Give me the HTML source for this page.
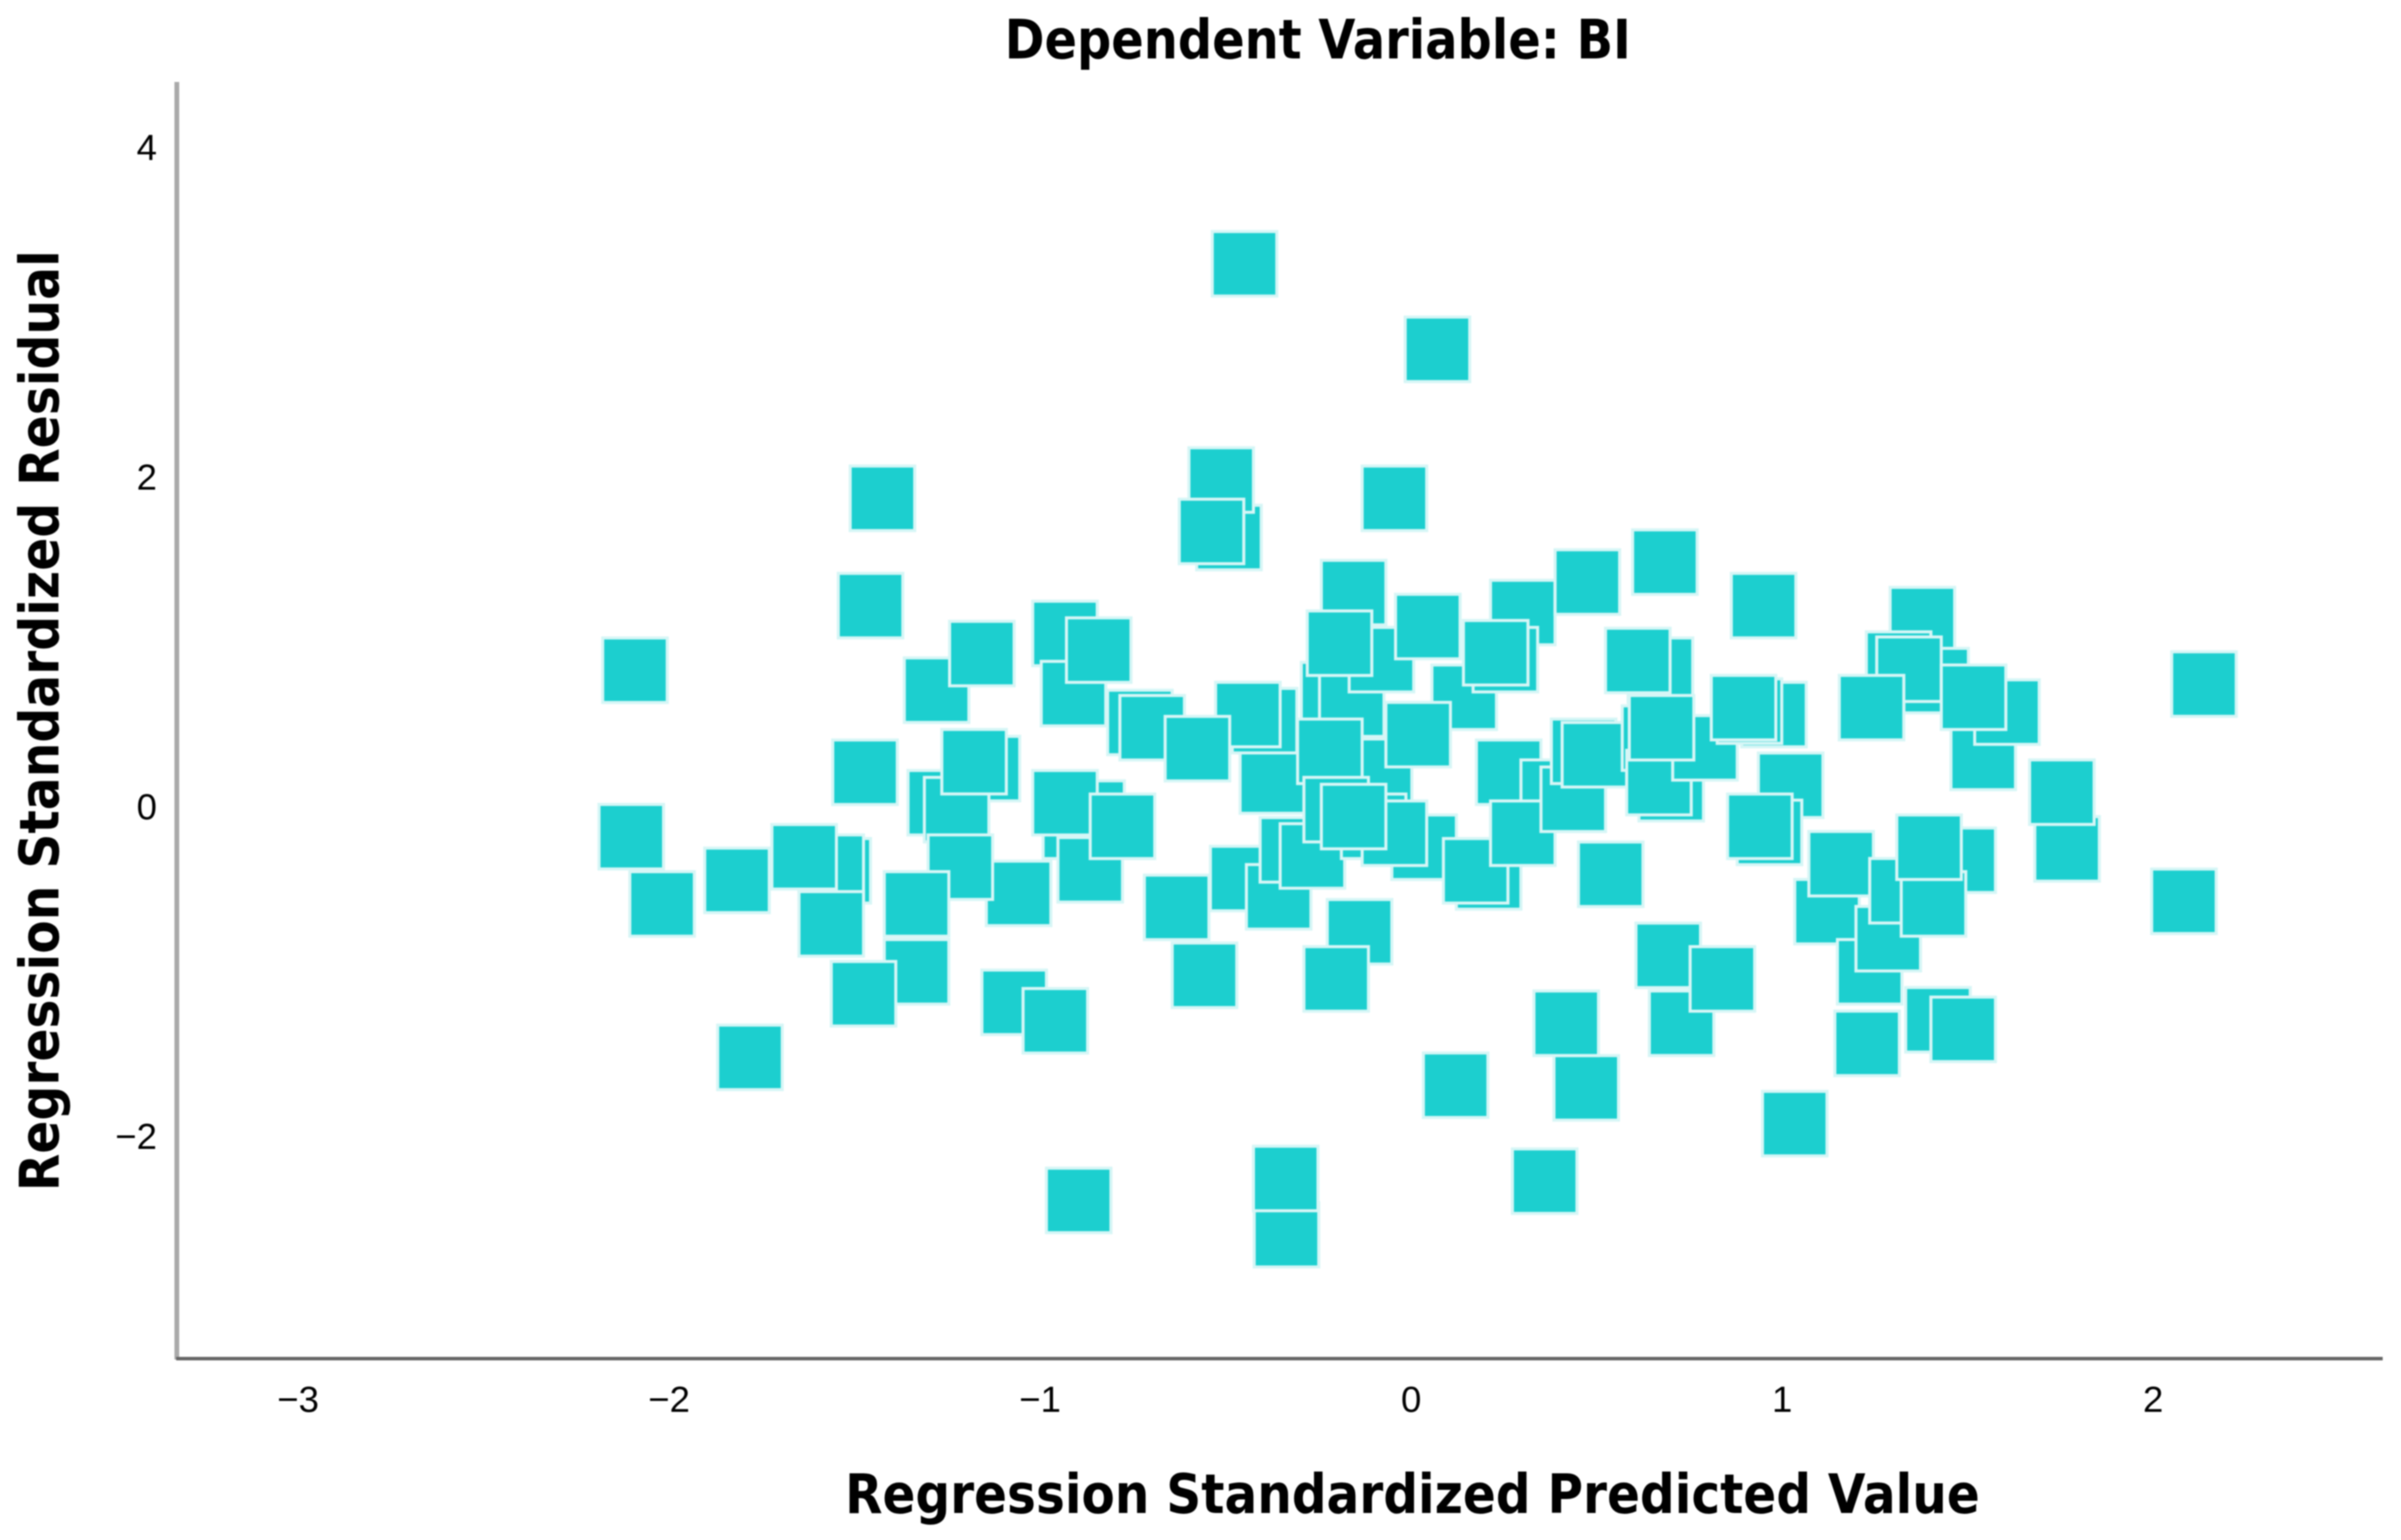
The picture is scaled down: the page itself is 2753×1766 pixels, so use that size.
<!DOCTYPE html>
<html lang="en">
<head>
<meta charset="utf-8">
<title>Dependent Variable: BI</title>
<style>
html,body{margin:0;padding:0;background:#fff;}
svg{display:block;filter:blur(0.8px);}
text{fill:#000;}
.axis-title{font-family:"DejaVu Sans","Liberation Sans",sans-serif;font-weight:bold;font-size:62px;}
.tick{font-family:"Liberation Sans",sans-serif;font-size:42px;}
</style>
</head>
<body>
<svg id="chart" xmlns="http://www.w3.org/2000/svg" width="2753" height="1766" viewBox="0 0 2753 1766">
  <rect x="0" y="0" width="2753" height="1766" fill="#ffffff"/>
  <text class="axis-title" x="1152" y="67" textLength="718" lengthAdjust="spacingAndGlyphs">Dependent Variable: BI</text>
  <g id="points"></g>
  <rect x="200" y="94" width="5.5" height="1465" fill="#aaaaaa"/>
  <rect x="202" y="1556" width="2530" height="4" fill="#666666"/>
  <g id="x-ticks"></g>
  <g id="y-ticks"></g>
  <text class="axis-title" x="969" y="1735" textLength="1301" lengthAdjust="spacingAndGlyphs">Regression Standardized Predicted Value</text>
  <text class="axis-title" transform="translate(67 1366) rotate(-90)" x="0" y="0" textLength="1079" lengthAdjust="spacingAndGlyphs">Regression Standardized Residual</text>
</svg>
<script>
const predictedValues = [
  -1.544,-1.563,-1.817,-1.636,-1.563,-2.102,-2.019,-2.092,-1.457,-1.472,
  -1.279,-1.157,-1.269,-1.142,-1.225,-1.178,-1.058,-1.333,-1.215,-1.333,
  -1.476,-1.782,-1.070,-0.959,-0.896,-0.933,-0.910,-0.842,-0.905,-0.860,
  -0.933,-0.865,-0.778,-0.731,-0.698,-0.374,-0.395,-0.440,-0.576,-0.632,
  -0.557,-0.449,0.071,-0.491,-0.512,-0.538,-1.425,-0.045,-0.155,-0.209,
  -0.160,-0.080,-0.193,0.045,-0.454,-0.357,-0.320,-0.266,0.143,-0.085,
  -0.219,-0.101,0.035,-0.045,-0.202,-0.155,0.019,-0.139,-0.202,-0.336,
  -0.338,0.120,0.472,0.360,1.034,0.418,0.209,0.174,0.263,0.383,
  0.301,0.437,0.465,0.494,0.301,0.254,0.228,0.475,0.684,0.950,
  0.538,0.672,0.611,0.656,0.701,0.668,0.792,0.675,0.978,0.912,
  0.896,1.023,0.966,0.940,1.378,1.314,1.415,1.342,1.241,1.542,
  1.606,1.516,2.137,2.083,1.768,1.754,1.121,1.159,1.236,1.286,
  1.323,1.488,1.408,1.396,1.229,1.420,1.488,0.693,0.729,0.839
];
const residualValues = [
  -0.392,-0.370,-0.450,-0.307,-0.714,-0.185,-0.593,0.825,1.217,0.206,
  0.704,0.926,0.021,0.228,-0.021,0.270,-0.529,-1.005,-0.370,-0.593,
  -1.138,-1.524,-1.190,-1.302,-2.392,1.048,0.683,0.947,-0.122,-0.042,
  0.021,-0.386,-0.122,0.508,0.476,0.153,0.519,0.556,0.349,-0.614,
  -1.026,3.291,2.772,1.630,1.979,1.667,1.868,1.868,1.296,0.677,
  0.619,0.889,0.989,1.090,-0.439,-0.550,-0.265,-0.302,0.661,0.212,
  0.333,-0.122,-0.249,-0.164,-0.021,-0.063,0.434,-0.762,-1.048,-2.600,
  -2.259,-1.693,-1.709,-2.275,-1.926,-1.317,-0.429,-0.392,0.206,0.085,
  -0.164,0.042,0.333,0.312,1.175,0.889,0.931,1.360,1.481,1.217,
  -0.413,0.825,0.884,0.413,0.106,0.143,0.354,0.476,0.556,0.577,
  0.598,0.127,-0.159,-0.122,1.132,0.862,0.762,0.831,0.598,0.296,
  0.571,0.661,0.741,-0.577,-0.259,0.085,-0.640,-0.349,-1.005,-0.804,
  -0.513,-0.328,-0.593,-0.249,-1.439,-1.296,-1.354,-0.905,-1.317,-1.048
];
const xTickValues = [-3,-2,-1,0,1,2];
const yTickValues = [-2,0,2,4];

const SVG_NS = 'http://www.w3.org/2000/svg';
const MARKER_SIZE = 74;
function xScale(v){ return 1618 + v * 425.4; }
function yScale(v){ return 924.5 - v * 189; }
function tickText(v){ return v < 0 ? '\u2212' + Math.abs(v) : String(v); }

const pointsGroup = document.getElementById('points');
predictedValues.forEach(function(value, i){
  const marker = document.createElementNS(SVG_NS, 'rect');
  
  
  marker.setAttribute('x', xScale(value) - MARKER_SIZE / 2);
  marker.setAttribute('y', yScale(residualValues[i]) - MARKER_SIZE / 2);
  marker.setAttribute('width', MARKER_SIZE);
  marker.setAttribute('height', MARKER_SIZE);
  marker.setAttribute('fill', '#1ccfcf');
  marker.setAttribute('stroke', '#d6f6f6');
  marker.setAttribute('stroke-width', '3.5');
  pointsGroup.appendChild(marker);
});

const xTickGroup = document.getElementById('x-ticks');
xTickValues.forEach(function(value){
  const label = document.createElementNS(SVG_NS, 'text');
  
  
  label.setAttribute('class', 'tick');
  label.setAttribute('text-anchor', 'middle');
  label.setAttribute('x', xScale(value));
  label.setAttribute('y', 1619);
  label.textContent = tickText(value);
  xTickGroup.appendChild(label);
});

const yTickGroup = document.getElementById('y-ticks');
yTickValues.forEach(function(value){
  const label = document.createElementNS(SVG_NS, 'text');
  
  
  label.setAttribute('class', 'tick');
  label.setAttribute('text-anchor', 'end');
  label.setAttribute('x', 180);
  label.setAttribute('y', yScale(value) + 15);
  label.textContent = tickText(value);
  yTickGroup.appendChild(label);
});
</script>
</body>
</html>
